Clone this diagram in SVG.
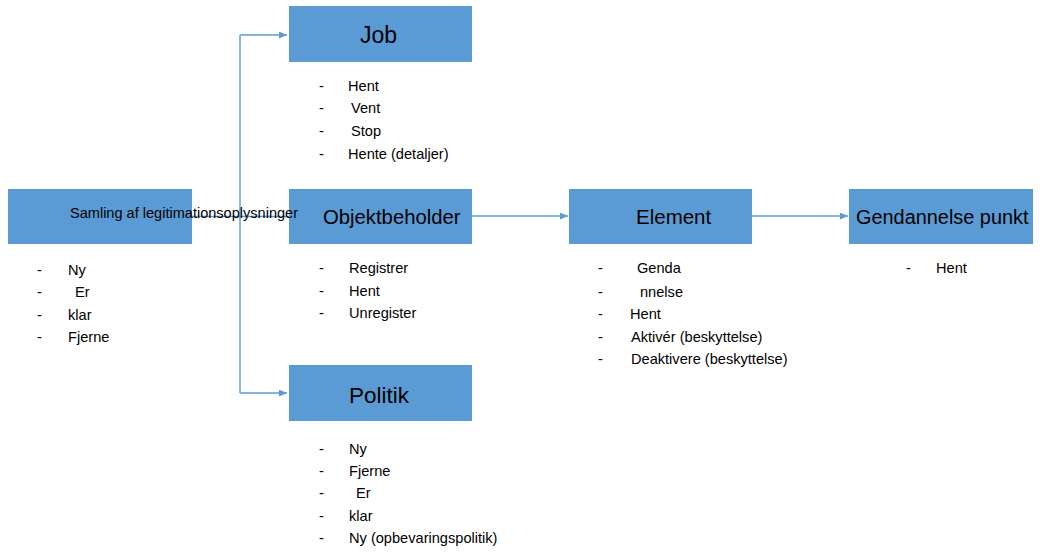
<svg xmlns="http://www.w3.org/2000/svg" width="1043" height="555" viewBox="0 0 1043 555">
<style>
.box{fill:#5B9BD5;}
.title{font-family:"Liberation Sans",Arial,sans-serif;fill:#000;}
.li{font-family:"Liberation Sans",Arial,sans-serif;font-size:14.6px;fill:#000;}
.conn{stroke:#5B9BD5;stroke-width:1.4;fill:none;}
</style>
<defs>
<marker id="arr" markerUnits="userSpaceOnUse" markerWidth="9" markerHeight="8" refX="8" refY="3.5" orient="auto">
<path d="M0,0 L8,3.5 L0,7 z" fill="#5B9BD5"/>
</marker>
</defs>
<rect width="1043" height="555" fill="#fff"/>
<g id="connectors">
<path class="conn" d="M192,216.5 L289,216.5"/>
<path class="conn" d="M240,35 L240,393"/>
<path class="conn" d="M240,35 L287,35" marker-end="url(#arr)"/>
<path class="conn" d="M240,393 L287,393" marker-end="url(#arr)"/>
<path class="conn" d="M472,216 L568,216" marker-end="url(#arr)"/>
<path class="conn" d="M752,216 L848,216" marker-end="url(#arr)"/>
</g>
<g id="job">
<rect class="box" x="289" y="6" width="183" height="56"/>
<text class="title" x="360" y="43" font-size="23">Job</text>
<text class="li" x="319" y="91">-</text><text class="li" x="348" y="91">Hent</text>
<text class="li" x="319" y="113">-</text><text class="li" x="351" y="113">Vent</text>
<text class="li" x="319" y="136">-</text><text class="li" x="351" y="136">Stop</text>
<text class="li" x="319" y="159">-</text><text class="li" x="348" y="159">Hente (detaljer)</text>
</g>
<g id="objektbeholder">
<rect class="box" x="289" y="189" width="183" height="55"/>
<text class="title" x="323" y="224" font-size="20.3">Objektbeholder</text>
<text class="li" x="319" y="273">-</text><text class="li" x="349" y="273">Registrer</text>
<text class="li" x="319" y="296">-</text><text class="li" x="349" y="296">Hent</text>
<text class="li" x="319" y="318">-</text><text class="li" x="349" y="318">Unregister</text>
</g>
<g id="politik">
<rect class="box" x="289" y="365" width="183" height="56"/>
<text class="title" x="349" y="403" font-size="22.5">Politik</text>
<text class="li" x="319" y="454">-</text><text class="li" x="349" y="454">Ny</text>
<text class="li" x="319" y="476">-</text><text class="li" x="349" y="476">Fjerne</text>
<text class="li" x="319" y="498">-</text><text class="li" x="356" y="498">Er</text>
<text class="li" x="319" y="521">-</text><text class="li" x="349" y="521">klar</text>
<text class="li" x="319" y="543">-</text><text class="li" x="349" y="543">Ny (opbevaringspolitik)</text>
</g>
<g id="element">
<rect class="box" x="569" y="189" width="183" height="55"/>
<text class="title" x="636" y="224" font-size="20.5">Element</text>
<text class="li" x="598" y="273">-</text><text class="li" x="637" y="273">Genda</text>
<text class="li" x="598" y="297">-</text><text class="li" x="640" y="297">nnelse</text>
<text class="li" x="598" y="319">-</text><text class="li" x="630" y="319">Hent</text>
<text class="li" x="598" y="342">-</text><text class="li" x="631" y="342">Aktivér (beskyttelse)</text>
<text class="li" x="598" y="364">-</text><text class="li" x="631" y="364">Deaktivere (beskyttelse)</text>
</g>
<g id="gendannelse">
<rect class="box" x="849" y="189" width="184" height="55"/>
<text class="title" x="856" y="224" font-size="19.9">Gendannelse punkt</text>
<text class="li" x="906" y="273">-</text><text class="li" x="936" y="273">Hent</text>
</g>
<g id="samling">
<rect class="box" x="8" y="189" width="184" height="55"/>
<text class="title" x="70" y="218" font-size="14.5" textLength="228" lengthAdjust="spacingAndGlyphs">Samling af legitimationsoplysninger</text>
<text class="li" x="37" y="275">-</text><text class="li" x="68" y="275">Ny</text>
<text class="li" x="37" y="297">-</text><text class="li" x="75" y="297">Er</text>
<text class="li" x="37" y="320">-</text><text class="li" x="68" y="320">klar</text>
<text class="li" x="37" y="342">-</text><text class="li" x="68" y="342">Fjerne</text>
</g>
</svg>
